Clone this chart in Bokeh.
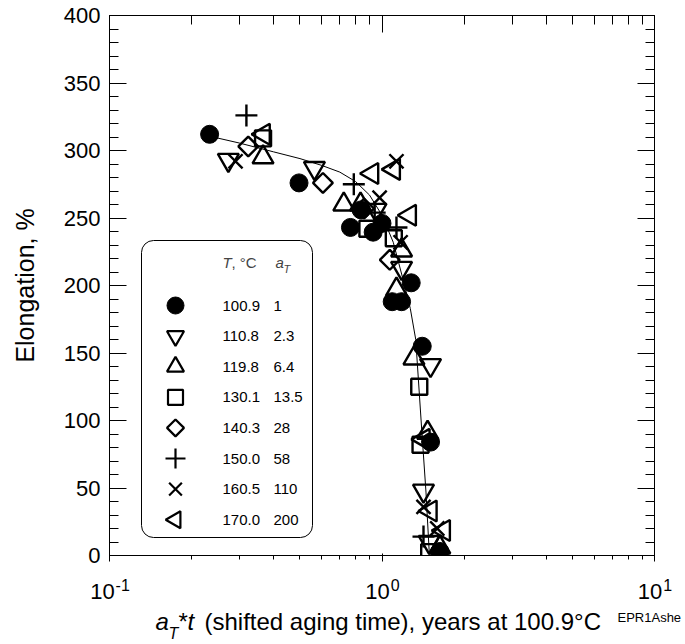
import numpy as np
from bokeh.plotting import figure
from bokeh.layouts import column
from bokeh.models import (LogAxis, LinearAxis, Label, BoxAnnotation, FixedTicker,
                          SingleIntervalTicker, CustomJSTickFormatter)
from bokeh.core.properties import value
from bokeh.embed import file_html
from bokeh.resources import INLINE

FONT = "Liberation Sans"

# ---------------- data ----------------
x_1009 = [0.233, 0.496, 0.766, 0.838, 0.928, 1.0, 1.09, 1.18, 1.28, 1.405, 1.507, 1.63]
y_1009 = [312, 276, 243, 256, 239.5, 246, 188, 188, 202, 155, 84, 3]

x_1108 = [0.273, 0.565, 0.95, 1.18, 1.507, 1.42, 1.49]
y_1108 = [293, 287, 256, 213, 141, 48, 10]

x_1198 = [0.366, 0.724, 0.834, 1.18, 1.13, 1.31, 1.47, 1.63]
y_1198 = [295, 260, 260, 226, 197, 146, 91, 6]

x_1301 = [0.366, 0.884, 1.105, 1.37, 1.385, 1.49]
y_1301 = [309, 242, 235, 125, 82, 2.5]

x_1403 = [0.323, 0.607, 0.86, 1.068]
y_1403 = [303, 276, 257, 219]

x_1500 = [0.318, 0.788, 0.94, 1.13, 1.42]
y_1500 = [326, 275, 254, 243, 14]

x_1605 = [0.29, 0.98, 1.13, 1.17, 1.42, 1.595]
y_1605 = [292, 265, 292, 232, 36, 20]

x_1700 = [0.368, 0.92, 1.105, 1.265, 1.42, 1.507, 1.686]
y_1700 = [312, 283, 286, 252, 86, 33, 18.5]

fit_x = [0.24, 0.3, 0.4, 0.5, 0.6, 0.7, 0.8, 0.9, 1.0, 1.1, 1.2, 1.27, 1.33, 1.4, 1.45, 1.49]
fit_y = [310, 305.5, 299, 294, 289, 284, 277, 267, 252, 232, 203, 183, 160, 92, 47, 3]

temps = ["100.9", "110.8", "119.8", "130.1", "140.3", "150.0", "160.5", "170.0"]
a_T = ["1", "2.3", "6.4", "13.5", "28", "58", "110", "200"]

x_major = [0.1, 1, 10]
x_minor = [0.2, 0.3, 0.4, 0.5, 0.6, 0.7, 0.8, 0.9, 2, 3, 4, 5, 6, 7, 8, 9]
x_tick_base = ["10", "10", "10"]
x_tick_exp = ["-1", "0", "1"]

series_x = [x_1009, x_1108, x_1198, x_1301, x_1403, x_1500, x_1605, x_1700]
series_y = [y_1009, y_1108, y_1198, y_1301, y_1403, y_1500, y_1605, y_1700]

# marker styles: (marker, angle, filled, size, legend size)
styles = [
    ("circle", 0.0, True, 18, 17),
    ("inverted_triangle", 0.0, False, 21, 17),
    ("triangle", 0.0, False, 21, 17),
    ("square", 0.0, False, 16, 15),
    ("square", np.pi / 4, False, 14, 12),
    ("cross", 0.0, False, 22, 20),
    ("x", 0.0, False, 20, 18),
    ("triangle", np.pi / 2, False, 21, 17),
]

# ---------------- layout ----------------
W, H = 685, 644
FL, FR, FT, FB = 109, 654, 15, 555  # frame edges in px
H1 = 569
H2 = H - H1


def dx(px):
    return 10 ** (-1 + 2 * (px - FL) / (FR - FL))


def dy(py):
    return 400 * (FB - py) / (FB - FT)


p = figure(width=W, height=H1, x_axis_type="log", x_range=(0.1, 10), y_range=(0, 400),
           output_backend="svg", toolbar_location=None,
           min_border_left=FL, min_border_right=W - FR, min_border_top=FT,
           min_border_bottom=H1 - FB)
p.xgrid.visible = False
p.ygrid.visible = False
p.outline_line_color = "black"
p.background_fill_color = "white"
p.border_fill_color = "white"

xt = FixedTicker(ticks=x_major, minor_ticks=x_minor)
yt = SingleIntervalTicker(interval=50, num_minor_ticks=5)
blank = CustomJSTickFormatter(code="return ''")
p.xaxis.ticker = xt
p.xaxis.formatter = blank
p.yaxis.ticker = yt

top = LogAxis(ticker=xt, formatter=blank)
right = LinearAxis(ticker=yt, formatter=blank)
p.add_layout(top, "above")
p.add_layout(right, "right")

for ax in [p.xaxis[0], p.yaxis[0], top, right]:
    ax.major_tick_in = 17
    ax.major_tick_out = 0
    ax.minor_tick_in = 9
    ax.minor_tick_out = 0
    ax.axis_line_color = "black"
    ax.major_tick_line_color = "black"
    ax.minor_tick_line_color = "black"
    ax.major_label_text_font = FONT
    ax.major_label_text_font_size = "22px"
    ax.major_label_text_color = "black"
for ax in [p.xaxis[0], top, right]:
    ax.major_label_standoff = 0
    ax.major_label_text_font_size = "0px"

p.yaxis[0].major_label_standoff = 9
p.yaxis[0].axis_label = "Elongation, %"
p.yaxis[0].axis_label_text_font = FONT
p.yaxis[0].axis_label_text_font_size = "25px"
p.yaxis[0].axis_label_text_font_style = "normal"
p.yaxis[0].axis_label_text_color = "black"
p.yaxis[0].axis_label_standoff = 22

# ---------------- fit line + data ----------------
p.line(fit_x, fit_y, line_color="black", line_width=1)
for xs, ys, (mk, ang, filled, sz, _) in zip(series_x, series_y, styles):
    p.scatter(xs, ys, marker=mk, angle=ang, size=sz,
              fill_color="black" if filled else None, line_color="black",
              line_width=1 if filled else 2.4)

# ---------------- legend ----------------
box = BoxAnnotation(left=dx(141), right=dx(312), top=dy(240), bottom=dy(537),
                    fill_color="white", fill_alpha=1, line_color="black", line_alpha=1,
                    line_width=1, border_radius=12, level="underlay")
p.add_layout(box)

row0, step = 305, 30.6
for i, (mk, ang, filled, _, lsz) in enumerate(styles):
    yy = dy(row0 + step * i)
    p.scatter([dx(175)], [yy], marker=mk, angle=ang, size=lsz,
              fill_color="black" if filled else None, line_color="black",
              line_width=1 if filled else 2.2)
    p.add_layout(Label(x=dx(222), y=yy, text=temps[i], text_font=FONT,
                       text_font_size="15px", text_baseline="middle", text_color="black"))
    p.add_layout(Label(x=dx(273), y=yy, text=a_T[i], text_font=FONT,
                       text_font_size="15px", text_baseline="middle", text_color="black"))

hy = dy(262)
p.add_layout(Label(x=dx(222), y=hy, text="T", text_font=FONT, text_font_size="15px",
                   text_font_style="italic", text_baseline="middle"))
p.add_layout(Label(x=dx(231), y=hy, text=", °C", text_font=FONT, text_font_size="15px",
                   text_baseline="middle"))
p.add_layout(Label(x=dx(275), y=hy, text="a", text_font=FONT, text_font_size="15px",
                   text_font_style="italic", text_baseline="middle"))
p.add_layout(Label(x=dx(283), y=dy(268), text="T", text_font=FONT, text_font_size="11px",
                   text_font_style="italic", text_baseline="middle"))

# ---------------- strip below: x tick labels and x title ----------------
# same log scale as the main frame, widened to the full canvas width
p2 = figure(width=W, height=H2, x_axis_type="log", x_range=(dx(0), dx(W)),
            y_range=(H2, 0), output_backend="svg", toolbar_location=None,
            min_border=0, min_border_left=0, min_border_right=0, min_border_top=0,
            min_border_bottom=0, x_axis_location=None, y_axis_location=None)
p2.outline_line_color = None
p2.xgrid.visible = False
p2.ygrid.visible = False
p2.background_fill_color = "white"
p2.border_fill_color = "white"
if hasattr(p2, "frame_align"):
    p2.frame_align = False
    p.frame_align = False

BASE_FS, EXP_FS = 22, 16
for xv, b, e in zip(x_major, x_tick_base, x_tick_exp):
    wb = 0.556 * BASE_FS * len(b)
    we = sum(0.333 if c == "-" else 0.556 for c in e) * EXP_FS
    off = (wb - we) / 2
    p2.text(x=[xv], y=[591 - H1], text=[b], text_font=value(FONT),
            text_font_size=value(f"{BASE_FS}px"), text_align="right",
            text_baseline="alphabetic", x_offset=off, text_color="black")
    p2.text(x=[xv], y=[584 - H1], text=[e], text_font=value(FONT),
            text_font_size=value(f"{EXP_FS}px"), text_align="left",
            text_baseline="alphabetic", x_offset=off + 1, text_color="black")


def txt(px, py, s, size, style="normal"):
    p2.text(x=[dx(px)], y=[py - H1], text=[s], text_font=value(FONT),
            text_font_size=value(size), text_font_style=style,
            text_baseline="alphabetic", text_align="left", text_color="black")


base = 621
txt(155, base, "a", "24px", "italic")
txt(168, base + 12, "T", "16px", "italic")
txt(178, base, "*", "24px")
txt(187, base, "t", "24px", "italic")
txt(204, base, "(shifted aging time), years at 100.9°C", "24px")
txt(617, 617, "EPR1Ashe", "13px")

layout = column(p, p2, spacing=0)
open("out.html", "w").write(file_html(layout, INLINE))
